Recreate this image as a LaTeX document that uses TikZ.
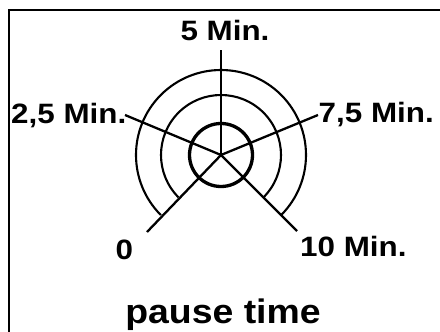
\documentclass[tikz,border=0pt]{standalone}
\usepackage{fontspec}
\setmainfont{Liberation Sans}
\usetikzlibrary{calc}
\begin{document}
\begin{tikzpicture}[x=1pt,y=-1pt,
  spoke/.style={line width=2.3pt},
  ring/.style={line width=2.1pt},
  hub/.style={line width=3.3pt},
  lbl/.style={inner sep=0pt,font=\fontsize{28}{30}\selectfont\bfseries,xscale=1.12},
  ttl/.style={inner sep=0pt,font=\fontsize{34}{36}\selectfont\bfseries,xscale=1.1}]
\useasboundingbox (0,0) rectangle (440,332);
\clip (0,0) rectangle (440,332);
\draw[line width=1.7pt] (9,340) -- (9,10) -- (450,10);
\coordinate (c) at (221,155);
\coordinate (e5) at (221,50);
\coordinate (e25) at (125,115);
\coordinate (e75) at (318,115);
\coordinate (e0) at (147,232);
\coordinate (e10) at (297,231);
\foreach \e in {e5,e25,e75,e0,e10} \draw[spoke] (c) -- (\e);
\draw[hub] (c) circle[radius=31.5];
\draw[ring] ($(c)+(135:60)$) arc[start angle=135,end angle=405,radius=60];
\draw[ring] ($(c)+(135:85)$) arc[start angle=135,end angle=405,radius=85];
\node[lbl,anchor=base] (l5) at (225,40.7) {5 Min.};
\node[lbl,anchor=base west] (l25) at (11,123) {2,5 Min.};
\node[lbl,anchor=base west] (l75) at (318.5,122) {7,5 Min.};
\node[lbl,anchor=base west] (l0) at (115.5,259) {0};
\node[lbl,anchor=base west] (l10) at (300,256) {10 Min.};
\node[ttl,anchor=base] (title) at (223,323) {pause time};
\end{tikzpicture}
\end{document}
